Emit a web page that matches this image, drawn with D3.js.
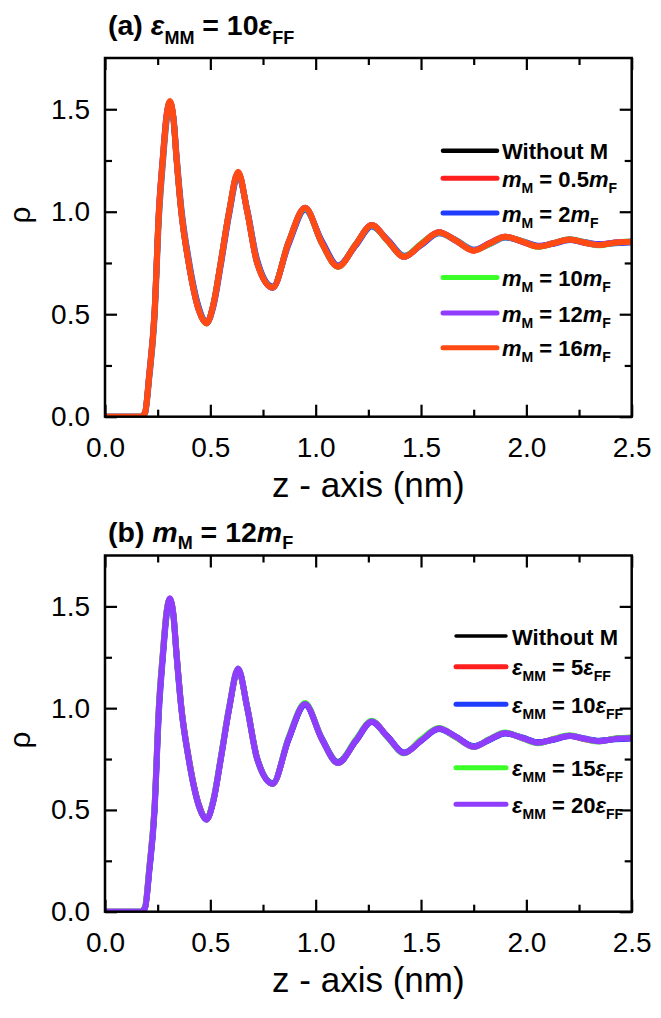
<!DOCTYPE html>
<html><head><meta charset="utf-8">
<script src="https://cdn.jsdelivr.net/npm/d3@7"></script>
<style>body{margin:0;background:#fff}svg{display:block}text{font-family:"Liberation Sans",Arial,Helvetica,sans-serif}</style>
</head><body><svg id="c" width="661" height="1018"></svg>
<script>
// ---------- data ----------
const zValues = [0,0.1,0.17,0.19,0.21,0.235,0.256,0.274,0.293,0.308,0.325,0.34,0.362,0.397,0.445,0.482,0.515,0.549,0.589,0.632,0.675,0.722,0.796,0.871,0.95,1.028,1.106,1.19,1.266,1.34,1.42,1.50,1.585,1.665,1.75,1.825,1.90,1.98,2.056,2.13,2.206,2.275,2.345,2.42,2.5];

const xTicks = [0, 0.5, 1.0, 1.5, 2.0, 2.5];
const xMinorTicks = [0.25, 0.75, 1.25, 1.75, 2.25];
const yTicks = [0, 0.5, 1.0, 1.5];
const yMinorTicks = [0.25, 0.75, 1.25];

// Panel (a): eps_MM = 10 eps_FF
const rhoA_without = [0,0,0,0.02,0.2,0.5,1.0,1.25,1.47,1.53,1.45,1.25,1.0,0.75,0.52,0.455,0.55,0.75,1.0,1.185,1.0,0.75,0.63,0.85,1.015,0.85,0.733,0.84,0.932,0.86,0.782,0.84,0.897,0.86,0.812,0.845,0.876,0.855,0.832,0.846,0.864,0.85,0.84,0.848,0.852];
const rhoA_m05 = [0,0,0,0.02,0.21,0.51,1.01,1.26,1.48,1.535,1.455,1.255,1.005,0.755,0.525,0.457,0.548,0.748,0.998,1.19,1.005,0.755,0.632,0.848,1.018,0.852,0.735,0.838,0.935,0.862,0.78,0.842,0.9,0.858,0.81,0.847,0.878,0.853,0.83,0.848,0.865,0.848,0.838,0.85,0.854];
const rhoA_m2 = [0,0,0,0.015,0.19,0.48,0.97,1.23,1.45,1.52,1.46,1.27,1.02,0.77,0.535,0.458,0.54,0.735,0.985,1.18,1.01,0.765,0.635,0.84,1.01,0.86,0.738,0.835,0.928,0.865,0.785,0.836,0.895,0.862,0.815,0.842,0.874,0.857,0.834,0.844,0.862,0.852,0.842,0.846,0.85];
const rhoA_m10 = [0,0,0,0.02,0.2,0.5,0.99,1.245,1.465,1.53,1.452,1.252,1.003,0.752,0.522,0.455,0.552,0.752,1.002,1.188,1.002,0.752,0.63,0.852,1.016,0.848,0.732,0.842,0.933,0.858,0.782,0.844,0.898,0.861,0.813,0.843,0.877,0.856,0.829,0.847,0.866,0.851,0.836,0.849,0.855];
const rhoA_m12 = [0,0,0,0.02,0.205,0.505,1.005,1.255,1.475,1.535,1.45,1.25,1.0,0.75,0.52,0.456,0.55,0.75,1.0,1.19,1.0,0.75,0.628,0.85,1.02,0.85,0.733,0.84,0.935,0.86,0.78,0.84,0.9,0.86,0.812,0.846,0.878,0.854,0.831,0.846,0.865,0.85,0.839,0.85,0.853];
const rhoA_m16 = [0,0,0,0.02,0.2,0.5,1.0,1.25,1.47,1.54,1.455,1.255,1.0,0.75,0.52,0.455,0.55,0.75,1.0,1.195,1.0,0.75,0.63,0.85,1.02,0.85,0.732,0.84,0.935,0.86,0.78,0.84,0.9,0.86,0.81,0.845,0.878,0.855,0.83,0.846,0.865,0.85,0.838,0.849,0.853];

// Panel (b): m_M = 12 m_F
const rhoB_without = [0,0,0,0.02,0.2,0.5,1.0,1.25,1.47,1.53,1.45,1.25,1.0,0.75,0.52,0.452,0.55,0.75,1.0,1.19,1.0,0.75,0.628,0.85,1.02,0.85,0.73,0.84,0.935,0.86,0.78,0.84,0.9,0.86,0.812,0.845,0.877,0.855,0.832,0.846,0.864,0.85,0.84,0.848,0.852];
const rhoB_e5 = [0,0,0,0.02,0.21,0.51,1.01,1.26,1.48,1.535,1.46,1.265,1.01,0.76,0.528,0.455,0.548,0.748,0.998,1.19,1.005,0.755,0.63,0.848,1.018,0.852,0.735,0.838,0.935,0.862,0.78,0.842,0.9,0.858,0.81,0.847,0.878,0.853,0.83,0.848,0.865,0.848,0.838,0.85,0.854];
const rhoB_e10 = [0,0,0,0.018,0.195,0.49,0.98,1.24,1.46,1.53,1.455,1.26,1.005,0.755,0.525,0.455,0.545,0.745,0.995,1.188,1.005,0.755,0.632,0.846,1.016,0.855,0.735,0.838,0.932,0.862,0.782,0.84,0.898,0.86,0.814,0.844,0.876,0.856,0.832,0.845,0.863,0.851,0.84,0.847,0.851];
const rhoB_e15 = [0,0,0,0.025,0.215,0.515,1.015,1.265,1.48,1.535,1.45,1.25,1.0,0.75,0.52,0.453,0.555,0.755,1.005,1.195,1.0,0.75,0.628,0.855,1.025,0.85,0.73,0.845,0.938,0.858,0.778,0.846,0.902,0.858,0.81,0.848,0.88,0.853,0.828,0.849,0.867,0.849,0.836,0.851,0.856];
const rhoB_e20 = [0,0,0,0.02,0.205,0.505,1.005,1.255,1.475,1.54,1.452,1.252,1.0,0.75,0.52,0.452,0.55,0.75,1.0,1.195,1.0,0.75,0.628,0.85,1.02,0.85,0.73,0.84,0.935,0.86,0.78,0.84,0.9,0.86,0.81,0.846,0.878,0.854,0.83,0.847,0.865,0.85,0.838,0.849,0.853];

const colorsA = ["#000000", "#ff1f1f", "#1f3cff", "#3cff2a", "#8f3cff", "#ff4a14"];
const colorsB = ["#000000", "#ff1f1f", "#1f3cff", "#3cff2a", "#8f3cff"];

// label segments: [text, flags]  I=italic, S=subscript, B=bold
const labelsA = [
  [["Without M", ""]],
  [["m","I"],["M","S"],[" = 0.5",""],["m","I"],["F","S"]],
  [["m","I"],["M","S"],[" = 2",""],["m","I"],["F","S"]],
  [["m","I"],["M","S"],[" = 10",""],["m","I"],["F","S"]],
  [["m","I"],["M","S"],[" = 12",""],["m","I"],["F","S"]],
  [["m","I"],["M","S"],[" = 16",""],["m","I"],["F","S"]]
];
const labelsB = [
  [["Without M", ""]],
  [["ε","I"],["MM","S"],[" = 5",""],["ε","I"],["FF","S"]],
  [["ε","I"],["MM","S"],[" = 10",""],["ε","I"],["FF","S"]],
  [["ε","I"],["MM","S"],[" = 15",""],["ε","I"],["FF","S"]],
  [["ε","I"],["MM","S"],[" = 20",""],["ε","I"],["FF","S"]]
];
const titleA = [["(a) ",""],["ε","I"],["MM","S"],[" = 10",""],["ε","I"],["FF","S"]];
const titleB = [["(b) ",""],["m","I"],["M","S"],[" = 12",""],["m","I"],["F","S"]];

const xLabel = "z - axis (nm)";
const yLabel = "ρ";

// ---------- drawing ----------
const svg = d3.select("#c");
svg.append("rect").attr("width",661).attr("height",1018).attr("fill","#fff");

function rich(t, segs, size, subSize, subDy){
  let shift = 0;
  segs.forEach(([s,k]) => {
    const ts = t.append("tspan").text(s);
    const target = k.includes("S") ? subDy : 0;
    if (target !== shift) { ts.attr("dy", target - shift); shift = target; }
    ts.attr("font-size", k.includes("S") ? subSize : size);
    if (k.includes("I")) ts.attr("font-style","italic");
    if (k.includes("B")) ts.attr("font-weight","bold");
  });
}

const X0 = 105, X1 = 631.7;
const panels = [
  {top:58, bottom:416.7, series:[rhoA_without,rhoA_m05,rhoA_m2,rhoA_m10,rhoA_m12,rhoA_m16], colors:colorsA, labels:labelsA,
   legendRows:[150.7,178.3,213,277.5,313,347.7], legX0:443, legX1:497, legTx:502,
   title:titleA, titleY:35, titleSubDy:9, rhoY:215},
  {top:555.5, bottom:911.7, series:[rhoB_without,rhoB_e5,rhoB_e10,rhoB_e15,rhoB_e20], colors:colorsB, labels:labelsB,
   legendRows:[636,666.7,704.3,767.7,804.3], legX0:456, legX1:506, legTx:512,
   title:titleB, titleY:541.7, titleSubDy:7, rhoY:740}
];

const x = d3.scaleLinear().domain([0,2.5]).range([X0, X1]);

panels.forEach((p, pi) => {
  const y = d3.scaleLinear().domain([0,1.75]).range([p.bottom, p.top]);
  const g = svg.append("g");
  const clipId = "clip"+pi;
  svg.append("clipPath").attr("id",clipId).append("rect")
    .attr("x",X0).attr("y",p.top-4).attr("width",X1-X0).attr("height",p.bottom-p.top+4);

  const line = d3.line().x(d=>x(d[0])).y(d=>y(d[1])).curve(d3.curveMonotoneX);
  p.series.forEach((vals, i) => {
    const pts = zValues.map((z,j)=>[z, vals[j]]);
    g.append("path").attr("d", line(pts)).attr("fill","none")
      .attr("stroke", p.colors[i]).attr("stroke-width", i===0?5.5:6)
      .attr("stroke-linejoin","round").attr("stroke-linecap","round")
      .attr("clip-path","url(#"+clipId+")");
  });

  // axes (ticks inward on all four sides)
  const bottomMajor = d3.axisBottom(x).tickValues(xTicks).tickSizeInner(-12).tickSizeOuter(0).tickPadding(20).tickFormat(d3.format(".1f"));
  const bottomMinor = d3.axisBottom(x).tickValues(xMinorTicks).tickSizeInner(-7).tickSizeOuter(0).tickFormat("");
  const topMajor = d3.axisTop(x).tickValues(xTicks).tickSizeInner(-12).tickSizeOuter(0).tickFormat("");
  const topMinor = d3.axisTop(x).tickValues(xMinorTicks).tickSizeInner(-7).tickSizeOuter(0).tickFormat("");
  const leftMajor = d3.axisLeft(y).tickValues(yTicks).tickSizeInner(-12).tickSizeOuter(0).tickPadding(15).tickFormat(d3.format(".1f"));
  const leftMinor = d3.axisLeft(y).tickValues(yMinorTicks).tickSizeInner(-7).tickSizeOuter(0).tickFormat("");
  const rightMajor = d3.axisRight(y).tickValues(yTicks).tickSizeInner(-12).tickSizeOuter(0).tickFormat("");
  const rightMinor = d3.axisRight(y).tickValues(yMinorTicks).tickSizeInner(-7).tickSizeOuter(0).tickFormat("");

  const axG = [
    [bottomMajor, `translate(0,${p.bottom})`],
    [bottomMinor, `translate(0,${p.bottom})`],
    [topMajor, `translate(0,${p.top})`],
    [topMinor, `translate(0,${p.top})`],
    [leftMajor, `translate(${X0},0)`],
    [leftMinor, `translate(${X0},0)`],
    [rightMajor, `translate(${X1},0)`],
    [rightMinor, `translate(${X1},0)`]
  ];
  axG.forEach(([ax, tr]) => {
    const a = svg.append("g").attr("transform", tr).call(ax);
    a.select(".domain").remove();
    a.selectAll(".tick line").attr("stroke","#000").attr("stroke-width",2.2);
    a.selectAll(".tick text").attr("fill","#000").attr("font-size",28)
      .attr("font-family",'"Liberation Sans",Arial,sans-serif');
  });

  // frame
  svg.append("rect").attr("x",X0).attr("y",p.top).attr("width",X1-X0).attr("height",p.bottom-p.top)
    .attr("fill","none").attr("stroke","#000").attr("stroke-width",2.5);

  // axis titles
  svg.append("text").attr("x",(X0+X1)/2).attr("y",p.bottom+80).attr("text-anchor","middle")
    .attr("font-size",35).attr("fill","#000").text(xLabel);
  svg.append("text").attr("transform",`translate(30,${p.rhoY}) rotate(-90)`).attr("text-anchor","middle")
    .attr("font-size",30).attr("fill","#000").text(yLabel);

  // panel title (bold)
  const tt = svg.append("text").attr("x",108).attr("y",p.titleY).attr("fill","#000").attr("font-weight","bold");
  rich(tt, p.title, 28.5, 18, p.titleSubDy);

  // legend
  p.labels.forEach((segs, i) => {
    const ry = p.legendRows[i];
    svg.append("line").attr("x1",p.legX0).attr("x2",p.legX1).attr("y1",ry).attr("y2",ry)
      .attr("stroke",p.colors[i]).attr("stroke-width", i===0 ? (pi===0?4.5:3.5) : 5).attr("stroke-linecap","round");
    const t = svg.append("text").attr("x",p.legTx).attr("y",ry+8.5).attr("fill","#000").attr("font-weight","bold");
    rich(t, segs, 22, 14, 6);
  });
});
</script></body></html>
